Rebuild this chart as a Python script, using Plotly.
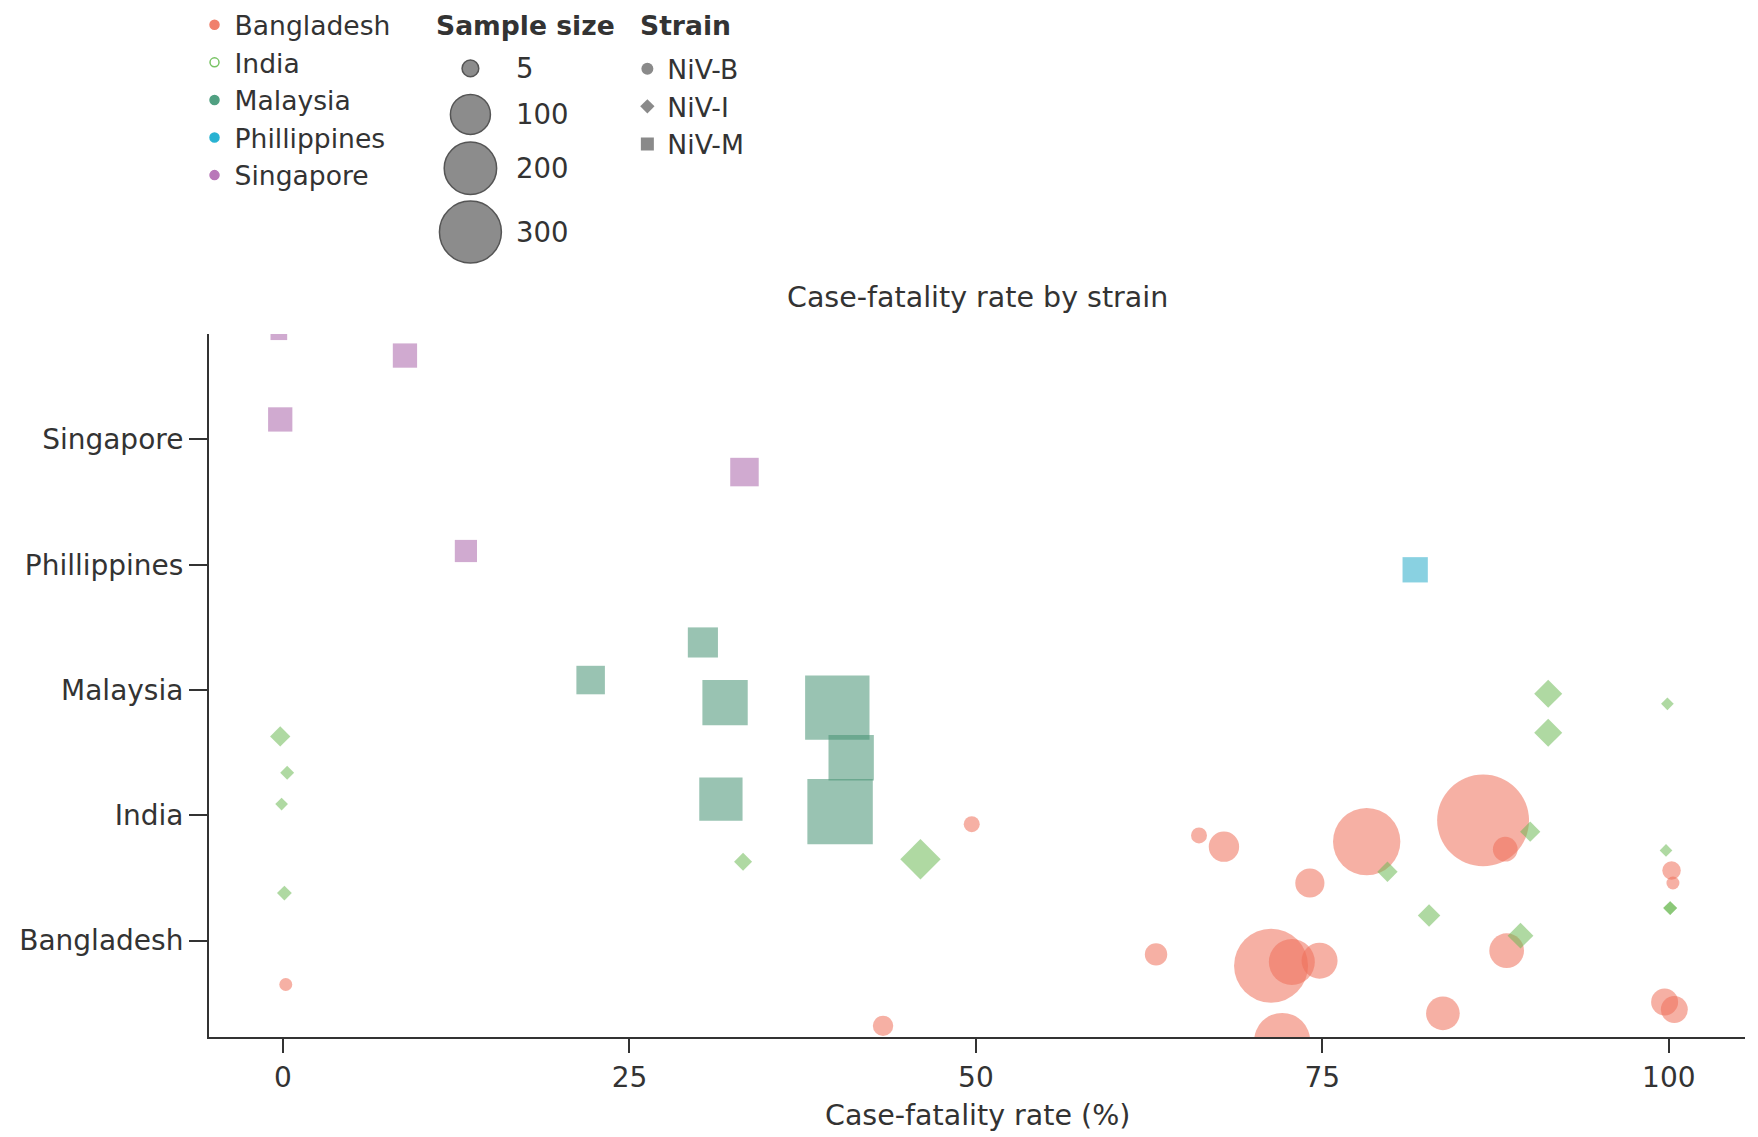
import plotly.graph_objects as go
import numpy as np

# rows on the y axis (bottom to top)
rows = ["Bangladesh", "India", "Malaysia", "Phillippines", "Singapore"]

# case-fatality rate (%), jittered row position, sample size
bgd_cfr = [0.2, 43.3, 49.7, 66.1, 67.9, 78.2, 86.6, 88.2, 74.1, 100.2, 100.3, 63.0, 71.3, 72.8, 74.8, 88.3, 83.7, 99.7, 100.4, 72.1]
bgd_row = [-0.35, -0.68, 0.93, 0.84, 0.75, 0.79, 0.96, 0.73, 0.46, 0.56, 0.46, -0.11, -0.20, -0.17, -0.16, -0.08, -0.58, -0.49, -0.55, -0.80]
bgd_n = [1, 12, 4, 4, 46, 365, 745, 24, 41, 8, 1, 17, 455, 144, 75, 68, 62, 32, 32, 235]

ind_cfr = [-0.2, 0.3, -0.1, 0.1, 33.2, 46.0, 91.3, 99.9, 91.3, 90.0, 99.8, 79.7, 82.7, 89.3, 100.1, 100.1]
ind_row = [1.63, 1.34, 1.09, 0.38, 0.63, 0.65, 1.97, 1.89, 1.66, 0.87, 0.72, 0.55, 0.20, 0.04, 0.26, 0.26]
ind_n = [13, 2, 1, 3, 8, 110, 39, 1, 39, 13, 1, 13, 19, 30, 2, 2]

mys_cfr = [30.3, 22.2, 31.9, 40.0, 41.0, 31.6, 40.2]
mys_row = [2.38, 2.08, 1.90, 1.86, 1.46, 1.13, 1.03]
mys_n = [85, 73, 242, 552, 242, 216, 573]

phl_cfr = [81.7]
phl_row = [2.96]
phl_n = [52]

sgp_cfr = [-0.3, 8.8, -0.2, 33.3, 13.2]
sgp_row = [4.86, 4.67, 4.16, 3.74, 3.11]
sgp_n = [13, 46, 46, 73, 35]

legend_sizes = [5, 100, 200, 300]
strains = ["NiV-B", "NiV-I", "NiV-M"]

FONT = "DejaVu Sans"
TXT = "#333333"
FS_TICK = 28
FS_TITLE = 28.5
FS_KEY = 26.6


def px_size(n, factor=1.0):
    return (10 + 3 * np.sqrt(np.array(n, dtype=float))) * factor


series = [
    ("Bangladesh", bgd_cfr, bgd_row, bgd_n, "circle", 1.0, "rgb(238,112,90)", "rgb(240,128,108)", "circle"),
    ("India", ind_cfr, ind_row, ind_n, "diamond", 0.75, "rgb(110,185,85)", "rgb(120,195,100)", "circle-open"),
    ("Malaysia", mys_cfr, mys_row, mys_n, "square", 0.8, "rgb(70,145,115)", "rgb(80,160,130)", "circle"),
    ("Phillippines", phl_cfr, phl_row, phl_n, "square", 0.8, "rgb(40,172,200)", "rgb(40,178,210)", "circle"),
    ("Singapore", sgp_cfr, sgp_row, sgp_n, "square", 0.8, "rgb(170,100,170)", "rgb(185,120,185)", "circle"),
]

fig = go.Figure()

for name, xs, ys, ns, sym, fac, col, lcol, lsym in series:
    fig.add_trace(go.Scatter(
        x=xs, y=ys, mode="markers", name=name, showlegend=False,
        marker=dict(symbol=sym, size=px_size(ns, fac), color=col, opacity=0.55,
                    line=dict(width=0)),
    ))

# country key
for name, xs, ys, ns, sym, fac, col, lcol, lsym in series:
    fig.add_trace(go.Scatter(
        x=[None], y=[None], mode="markers", name=name, legend="legend",
        marker=dict(symbol=lsym, size=9, color=lcol, line=dict(width=1.5, color=lcol)),
    ))

# strain key
for s, sym, sz in zip(strains, ["circle", "diamond", "square"], [12, 11, 13]):
    fig.add_trace(go.Scatter(
        x=[None], y=[None], mode="markers", name=s, legend="legend2",
        marker=dict(symbol=sym, size=sz, color="#8a8a8a"),
    ))

# plot area on the page: x 208.5-1744.6, y 334-1037
W, H = 1536.5, 703.0


def paper_x(px):
    return (px - 208.5) / W


def paper_y(py):
    return (1037 - py) / H


shapes = []
annotations = []

# sample size key
for n, py in zip(legend_sizes, [68.4, 114.4, 168.2, 232.1]):
    d = float(px_size(n))
    shapes.append(dict(
        type="circle", xref="paper", yref="paper", xsizemode="pixel", ysizemode="pixel",
        xanchor=paper_x(470), yanchor=paper_y(py), x0=-d / 2, x1=d / 2, y0=-d / 2, y1=d / 2,
        fillcolor="#8c8c8c", line=dict(color="#555555", width=1.5),
    ))
    annotations.append(dict(
        text=str(n), xref="paper", yref="paper", x=paper_x(514), y=paper_y(py),
        xanchor="left", yanchor="middle", showarrow=False, font=dict(size=27.5, color=TXT),
    ))

annotations += [
    dict(text="<b>Sample size</b>", xref="paper", yref="paper", x=paper_x(434), y=paper_y(25),
         xanchor="left", yanchor="middle", showarrow=False, font=dict(size=FS_KEY, color=TXT)),
    dict(text="<b>Strain</b>", xref="paper", yref="paper", x=paper_x(638), y=paper_y(25),
         xanchor="left", yanchor="middle", showarrow=False, font=dict(size=FS_KEY, color=TXT)),
    dict(text="Case-fatality rate by strain", xref="paper", yref="paper", x=0.5, y=paper_y(297),
         xanchor="center", yanchor="middle", showarrow=False, font=dict(size=FS_TITLE, color=TXT)),
    dict(text="Case-fatality rate (%)", xref="paper", yref="paper", x=0.5, y=paper_y(1115),
         xanchor="center", yanchor="middle", showarrow=False, font=dict(size=FS_TITLE, color=TXT)),
]

# the page adds an 8 px body margin, so the figure is 8 px smaller each way
fig.update_layout(
    width=1750, height=1129,
    margin=dict(l=200.5, r=13.4, t=326, b=100, autoexpand=False),
    paper_bgcolor="white", plot_bgcolor="white",
    font=dict(family=FONT, size=FS_TICK, color=TXT),
    shapes=shapes, annotations=annotations,
    legend=dict(x=paper_x(194), y=paper_y(1), xanchor="left", yanchor="top",
                itemsizing="trace", font=dict(size=FS_KEY, color=TXT), bgcolor="rgba(0,0,0,0)"),
    legend2=dict(x=paper_x(627), y=paper_y(45), xanchor="left", yanchor="top",
                 itemsizing="trace", font=dict(size=FS_KEY, color=TXT), bgcolor="rgba(0,0,0,0)"),
)

fig.update_xaxes(
    range=[-5.34, 105.5], tickvals=[0, 25, 50, 75, 100],
    showline=True, linecolor="#333333", linewidth=2,
    ticks="outside", ticklen=14, tickwidth=2, tickcolor="#333333",
    showgrid=False, zeroline=False, tickfont=dict(size=FS_TICK, color=TXT),
)
fig.update_yaxes(
    range=[-0.769, 4.842], tickvals=list(range(len(rows))), ticktext=rows,
    showline=True, linecolor="#333333", linewidth=2,
    ticks="outside", ticklen=18, tickwidth=2, tickcolor="#333333",
    showgrid=False, zeroline=False, tickfont=dict(size=FS_TICK, color=TXT),
)

fig.write_html("out.html")
